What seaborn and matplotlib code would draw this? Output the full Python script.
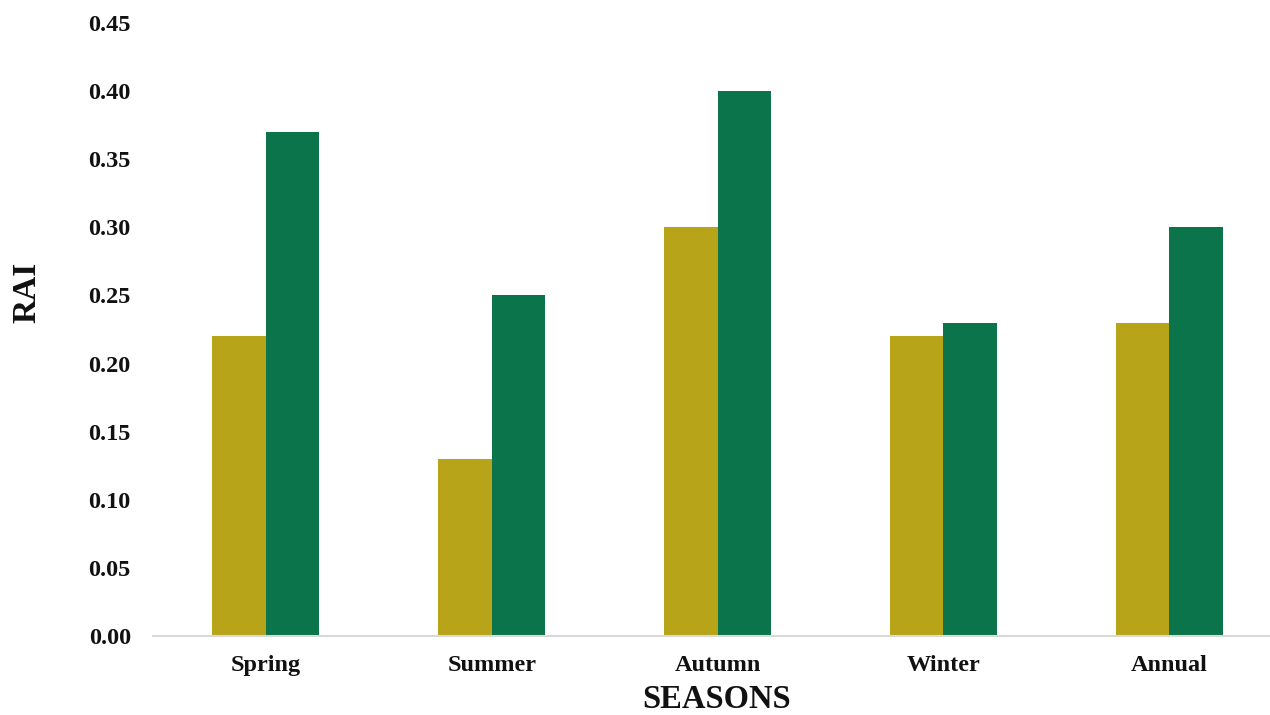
import matplotlib
matplotlib.use("Agg")
import matplotlib.pyplot as plt
import seaborn as sns
import pandas as pd

seasons = ["Spring", "Summer", "Autumn", "Winter", "Annual"]
series_a = [0.22, 0.13, 0.30, 0.22, 0.23]
series_b = [0.37, 0.25, 0.40, 0.23, 0.30]
series_names = ["A", "B"]
yticks = [0.00, 0.05, 0.10, 0.15, 0.20, 0.25, 0.30, 0.35, 0.40, 0.45]

df = pd.DataFrame({
    "Season": seasons * 2,
    "RAI": series_a + series_b,
    "Series": [series_names[0]] * len(seasons) + [series_names[1]] * len(seasons),
})

sns.set_style("white")
plt.rcParams['font.family'] = ['Liberation Serif', 'DejaVu Serif']
txt_color = "#111111"

fig = plt.figure(figsize=(12.7, 7.15), dpi=100)
ax_w = 1282 - 153
ax = fig.add_axes([153 / 1270, 1 - 636 / 715, ax_w / 1270, (636 - 23) / 715])

sns.barplot(data=df, x="Season", y="RAI", hue="Series", order=seasons,
            palette=["#B8A419", "#0B744A"], width=0.474, gap=0,
            saturation=1, legend=False, ax=ax, linewidth=0, edgecolor="none")

ax.set_xlim(-0.5, 4.5)
ax.set_ylim(0, 0.45)
ax.set_yticks(yticks)
ax.set_yticklabels([f"{v:.2f}" for v in yticks], fontsize=17.5,
                   fontweight="bold", color=txt_color)
ax.set_xticks(range(len(seasons)))
ax.set_xticklabels(seasons, fontsize=17.5, fontweight="bold", color=txt_color)
ax.tick_params(axis="y", length=0, pad=16)
ax.tick_params(axis="x", length=0, pad=14)

for s in ["top", "right", "left"]:
    ax.spines[s].set_visible(False)
ax.spines["bottom"].set_color("#D9D9D9")
ax.spines["bottom"].set_linewidth(1.5)

ax.set_xlabel("SEASONS", fontsize=23.5, fontweight="bold", color=txt_color)
ax.xaxis.set_label_coords((717 - 153) / ax_w, -0.078)
ax.set_ylabel("RAI", fontsize=24, fontweight="bold", color=txt_color)
ax.yaxis.set_label_coords((42 - 153) / ax_w, 0.561)
ax.grid(False)

fig.savefig("out.png", dpi=100)
